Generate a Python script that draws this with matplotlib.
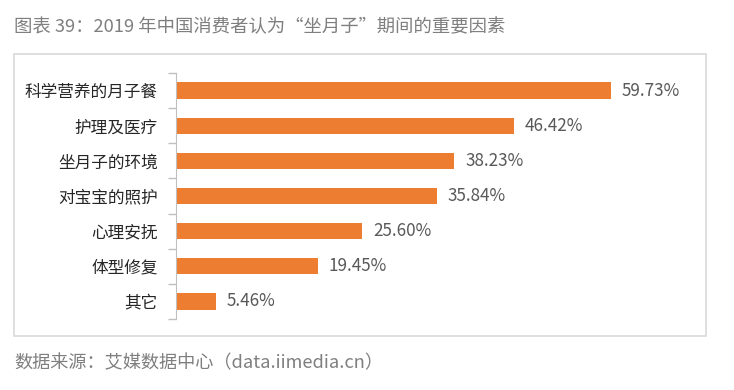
import matplotlib.pyplot as plt
from matplotlib.patches import Rectangle

plt.rcParams['font.family'] = ['Noto Sans CJK SC', 'DejaVu Sans']

# data, top to bottom
categories = ['科学营养的月子餐', '护理及医疗', '坐月子的环境', '对宝宝的照护',
              '心理安抚', '体型修复', '其它']
values = [59.73, 46.42, 38.23, 35.84, 25.60, 19.45, 5.46]
value_labels = ['59.73%', '46.42%', '38.23%', '35.84%', '25.60%', '19.45%', '5.46%']

title = '图表 39：2019 年中国消费者认为\u201c坐月子\u201d期间的重要因素'
source = '数据来源：艾媒数据中心（data.iimedia.cn）'

W, H = 734, 390
fig = plt.figure(figsize=(W / 100, H / 100), dpi=100)

# outer light gray box
fig.patches.append(Rectangle((14 / W, 1 - 336 / H), (706 - 14) / W, (336 - 54) / H,
                             transform=fig.transFigure, fill=False,
                             edgecolor='#d9d9d9', linewidth=1.2))

ax = fig.add_axes([176 / W, 1 - 319 / H, (700 - 176) / W, (319 - 73) / H])

n = len(categories)
ypos = list(range(n))
ax.barh(ypos, values, height=0.46, color='#ED7D31')
ax.set_ylim(n - 0.5, -0.5)
ax.set_xlim(0, (700 - 176) / ((611.7 - 177) / 59.73))

for y, v, lab in zip(ypos, values, value_labels):
    ax.annotate(lab, (v, y), xytext=(8, 0), textcoords='offset points',
                va='center', ha='left', fontsize=12.3, color='#595959')

ax.set_yticks(ypos)
ax.set_yticklabels(categories, fontsize=12, color='#262626')
ax.tick_params(axis='y', length=0, pad=13)
ax.set_yticks([i - 0.5 for i in range(n + 1)], minor=True)
ax.tick_params(axis='y', which='minor', length=6, color='#bfbfbf', width=1)
ax.set_xticks([])
for s in ['top', 'right', 'bottom']:
    ax.spines[s].set_visible(False)
ax.spines['left'].set_color('#bfbfbf')

fig.text(14 / W, 1 - 27 / H, title, fontsize=13.2, color='#7f7f7f', va='center', ha='left')
fig.text(14 / W, 1 - 363 / H, source, fontsize=13.1, color='#7f7f7f', va='center', ha='left')

fig.savefig('out.png', dpi=100)
